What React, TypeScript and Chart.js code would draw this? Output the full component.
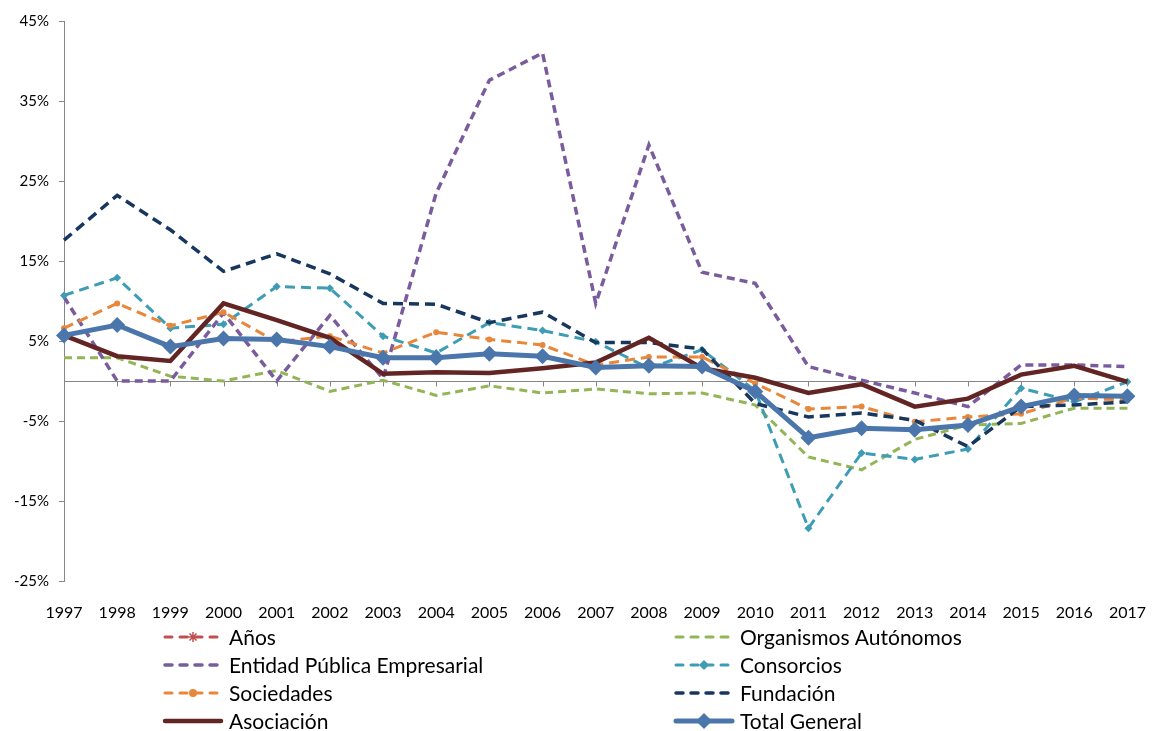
import React, { useEffect, useRef } from "react";
import { Chart, registerables } from "chart.js";

Chart.register(...registerables);

const years = ["1997","1998","1999","2000","2001","2002","2003","2004","2005","2006","2007","2008","2009","2010","2011","2012","2013","2014","2015","2016","2017"];

const anos: (number | null)[] = [];
const organismos = [2.9, 2.9, 0.6, 0.0, 1.3, -1.3, 0.1, -1.8, -0.6, -1.5, -1.0, -1.6, -1.5, -3.0, -9.5, -11.1, -7.3, -5.5, -5.3, -3.4, -3.4];
const entidad = [10.5, 0.0, 0.0, 8.5, 0.0, 8.2, 0.3, 23.5, 37.6, 41.0, 9.7, 29.5, 13.6, 12.2, 1.8, 0.1, -1.5, -3.2, 2.0, 2.0, 1.8];
const consorcios = [10.7, 12.9, 6.6, 7.1, 11.8, 11.6, 5.6, 3.5, 7.3, 6.3, 4.9, 1.6, 3.9, -1.2, -18.4, -9.0, -9.8, -8.5, -0.9, -2.6, -0.1];
const sociedades = [6.6, 9.7, 6.9, 8.6, 4.9, 5.6, 3.5, 6.1, 5.2, 4.5, 2.0, 3.0, 3.0, -0.3, -3.5, -3.2, -5.1, -4.5, -4.1, -2.1, -2.4];
const fundacion = [17.6, 23.2, 18.9, 13.7, 15.9, 13.4, 9.7, 9.6, 7.3, 8.6, 4.8, 4.8, 4.0, -2.8, -4.5, -4.0, -4.9, -8.2, -3.2, -3.0, -2.6];
const asociacion = [5.7, 3.1, 2.5, 9.7, 7.6, 5.4, 0.9, 1.1, 1.0, 1.6, 2.3, 5.4, 1.6, 0.4, -1.5, -0.4, -3.2, -2.2, 0.8, 1.9, -0.1];
const totalGeneral = [5.7, 7.0, 4.3, 5.3, 5.2, 4.3, 2.9, 2.9, 3.4, 3.1, 1.7, 1.9, 1.8, -1.3, -7.1, -5.9, -6.1, -5.5, -3.2, -1.8, -1.9];

const FONT = 'Lato, "Open Sans", sans-serif';
const AXIS_GRAY = "#868686";

function drawMarker(ctx: CanvasRenderingContext2D, style: string, x: number, y: number, r: number, color: string) {
  ctx.save();
  ctx.setLineDash([]);
  ctx.fillStyle = color;
  ctx.strokeStyle = color;
  ctx.lineWidth = 1.5;
  ctx.beginPath();
  if (style === "rectRot") {
    ctx.moveTo(x, y - r);
    ctx.lineTo(x + r, y);
    ctx.lineTo(x, y + r);
    ctx.lineTo(x - r, y);
    ctx.closePath();
    ctx.fill();
  } else if (style === "circle") {
    ctx.arc(x, y, r, 0, Math.PI * 2);
    ctx.fill();
  } else if (style === "star") {
    for (let k = 0; k < 4; k++) {
      const a = (k * Math.PI) / 4;
      ctx.moveTo(x - Math.cos(a) * r, y - Math.sin(a) * r);
      ctx.lineTo(x + Math.cos(a) * r, y + Math.sin(a) * r);
    }
    ctx.stroke();
  }
  ctx.restore();
}

const zeroLinePlugin = {
  id: "zeroLine",
  beforeDatasetsDraw(chart: any) {
    const { ctx, chartArea, scales } = chart;
    const y0 = Math.round(scales.y.getPixelForValue(0)) + 0.5;
    ctx.save();
    ctx.strokeStyle = AXIS_GRAY;
    ctx.lineWidth = 1;
    ctx.beginPath();
    ctx.moveTo(chartArea.left, y0);
    ctx.lineTo(chartArea.right, y0);
    for (let i = 0; i < years.length; i++) {
      const x = Math.round(scales.x.getPixelForTick(i)) + 0.5;
      ctx.moveTo(x, y0);
      ctx.lineTo(x, y0 + 5);
    }
    ctx.stroke();
    ctx.restore();
  },
};

const legendPlugin = {
  id: "customLegend",
  afterDraw(chart: any) {
    const ctx: CanvasRenderingContext2D = chart.ctx;
    const colX = [163, 674];
    const rowY0 = 637;
    const rowH = 28;
    const lineLen = 60;
    chart.data.datasets.forEach((ds: any, i: number) => {
      const col = i % 2;
      const row = Math.floor(i / 2);
      const x = colX[col];
      const y = rowY0 + row * rowH;
      ctx.save();
      ctx.strokeStyle = ds.borderColor;
      ctx.lineWidth = ds.legendWidth || ds.borderWidth;
      ctx.lineCap = "round";
      ctx.setLineDash(ds.borderDash && ds.borderDash.length ? [7, 8] : []);
      ctx.beginPath();
      ctx.moveTo(x + 2, y);
      ctx.lineTo(x + lineLen - 2, y);
      ctx.stroke();
      ctx.restore();
      if (ds.legendMarker) {
        drawMarker(ctx, ds.legendMarker, x + lineLen / 2, y, ds.legendMarkerR, ds.borderColor);
      }
      ctx.save();
      ctx.fillStyle = "#000";
      ctx.font = `21px ${FONT}`;
      ctx.textBaseline = "middle";
      ctx.textAlign = "left";
      ctx.fillText(ds.label, x + lineLen + 6, y + 1);
      ctx.restore();
    });
  },
};

export default function App() {
  const canvasRef = useRef<HTMLCanvasElement | null>(null);

  useEffect(() => {
    if (!canvasRef.current) return;
    const mk = (label: string, data: (number | null)[], color: string, width: number, dash: number[], extra: any = {}) => ({
      label,
      data,
      borderColor: color,
      backgroundColor: color,
      borderWidth: width,
      borderDash: dash,
      pointRadius: 0,
      pointHoverRadius: 0,
      tension: 0,
      fill: false,
      ...extra,
    });
    const chart = new Chart(canvasRef.current, {
      type: "line",
      data: {
        labels: years,
        datasets: [
          mk("Años", anos, "#C0504D", 3, [8, 5], { order: 8, legendMarker: "star", legendMarkerR: 5 }),
          mk("Organismos Autónomos", organismos, "#93B555", 3, [8, 5], { order: 7 }),
          mk("Entidad Pública Empresarial", entidad, "#7A5C9E", 3.5, [8, 5], { order: 6 }),
          mk("Consorcios", consorcios, "#3E9CB5", 3, [10, 6], {
            order: 5, pointRadius: 4, pointStyle: "rectRot", pointBorderWidth: 0, legendMarker: "rectRot", legendMarkerR: 5,
          }),
          mk("Sociedades", sociedades, "#E8863A", 3, [10, 6], {
            order: 4, pointRadius: 3, pointStyle: "circle", pointBorderWidth: 0, legendMarker: "circle", legendMarkerR: 4,
          }),
          mk("Fundación", fundacion, "#17375E", 3.5, [10, 6], { order: 3 }),
          mk("Asociación", asociacion, "#632523", 4.5, [], { order: 1 }),
          mk("Total General", totalGeneral, "#4A76AC", 5, [], {
            order: 0, pointRadius: 8, pointStyle: "rectRot", pointBorderWidth: 0, legendMarker: "rectRot", legendMarkerR: 8,
          }),
        ],
      },
      options: {
        responsive: false,
        animation: false,
        layout: { padding: { left: 0, top: 21, right: 27, bottom: 110 } },
        plugins: {
          legend: { display: false },
          tooltip: { enabled: false },
        },
        scales: {
          x: {
            type: "category",
            offset: false,
            grid: { display: false },
            border: { display: false },
            ticks: {
              color: "#000",
              font: { family: FONT, size: 16 },
              padding: 14,
              maxRotation: 0,
              autoSkip: false,
            },
            afterFit: (s: any) => { s.height = 40; },
          },
          y: {
            min: -25,
            max: 45,
            grid: {
              display: true,
              drawOnChartArea: false,
              drawTicks: true,
              tickLength: 5,
              color: AXIS_GRAY,
            },
            border: { display: true, color: AXIS_GRAY, width: 1 },
            ticks: {
              stepSize: 10,
              color: "#000",
              font: { family: FONT, size: 15 },
              padding: 10,
              callback: (v: any) => `${v}%`,
            },
            afterFit: (s: any) => { s.width = 64; },
          },
        },
      },
      plugins: [zeroLinePlugin, legendPlugin],
    });
    return () => chart.destroy();
  }, []);

  return (
    <div style={{ position: "fixed", left: 0, top: 0, width: 1160, height: 731, background: "#fff" }}>
      <canvas ref={canvasRef} width={1160} height={731} style={{ width: 1160, height: 731 }} />
    </div>
  );
}
